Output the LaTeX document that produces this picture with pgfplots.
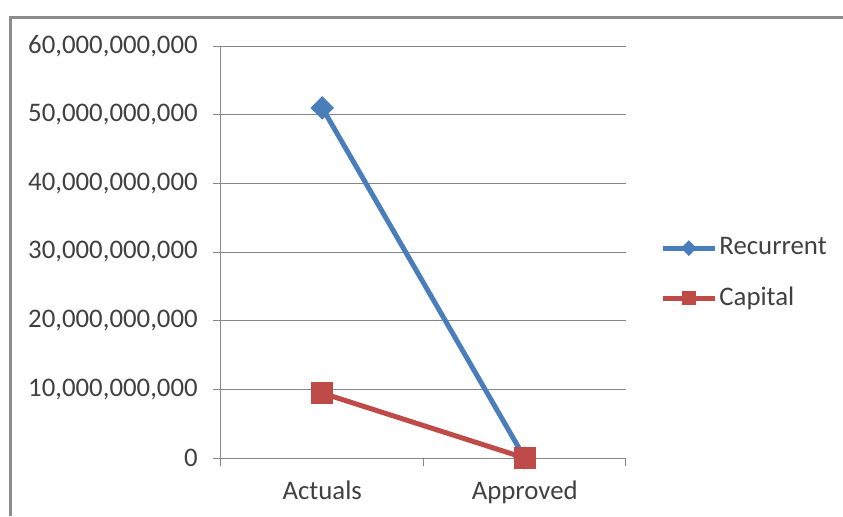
\documentclass[border=0pt]{standalone}
\usepackage{pgfplots}
\pgfplotsset{compat=1.18}
\usepackage{fontspec}
\setmainfont{Carlito}
\definecolor{recblue}{HTML}{4A7EBB}
\definecolor{capred}{HTML}{BE4B48}
\definecolor{gridgray}{HTML}{868686}
\definecolor{txtgray}{HTML}{404040}
\definecolor{framegray}{HTML}{8C8C8C}

\begin{document}
\fontsize{13.4}{16}\selectfont
\begin{tikzpicture}
\useasboundingbox (0,0) rectangle (421.5pt,258pt);
% chart frame
\draw[framegray, line width=1.5pt] (5pt,0) -- (5pt,249.5pt) -- (421.5pt,249.5pt);
\begin{axis}[
  at={(110.5pt,29pt)}, anchor=south west,
  scale only axis, width=202.5pt, height=206pt,
  xmin=0, xmax=2, ymin=0, ymax=6e10,
  scaled y ticks=false,
  axis lines=left,
  axis line style={-, gridgray, line width=0.5pt},
  tick align=outside,
  major tick length=4pt,
  tick style={gridgray, line width=0.5pt},
  ymajorgrids,
  major grid style={gridgray, line width=0.5pt},
  xtick={0,1,2}, xticklabels={},
  extra x ticks={0.5,1.5},
  extra x tick labels={Actuals,Approved},
  extra x tick style={tick style={draw=none}, grid=none,
    xticklabel style={yshift=-3pt}},
  ytick={0,1e10,2e10,3e10,4e10,5e10,6e10},
  yticklabels={0,{10,000,000,000},{20,000,000,000},{30,000,000,000},{40,000,000,000},{50,000,000,000},{60,000,000,000}},
  yticklabel style={text=txtgray, font=\fontsize{13.4}{16}\selectfont, xshift=-3pt},
  xticklabel style={text=txtgray, font=\fontsize{13.4}{16}\selectfont},
  legend style={at={(1.084,0.448)}, anchor=west, draw=none, fill=none,
    font=\fontsize{13.4}{16}\selectfont, text=txtgray, row sep=12pt,
    inner sep=0pt, nodes={inner sep=1pt}},
  legend cell align=left,
  legend image code/.code={%
    \draw[mark repeat=2, mark phase=2, #1, every mark/.append style={scale=0.65}]
      plot coordinates {(0pt,0pt) (13pt,0pt) (26pt,0pt)};},
  clip=false,
]
\addplot[recblue, line width=2.5pt, mark=square*, mark size=3.9pt,
  mark options={rotate=45, line width=0.5pt}]
  coordinates {(0.5,5.1e10) (1.5,0)};
\addlegendentry{Recurrent}
\addplot[capred, line width=2.5pt, mark=square*, mark size=5.3pt,
  mark options={line width=0.5pt}]
  coordinates {(0.5,9.45e9) (1.5,0)};
\addlegendentry{Capital}
\end{axis}
\end{tikzpicture}
\end{document}
